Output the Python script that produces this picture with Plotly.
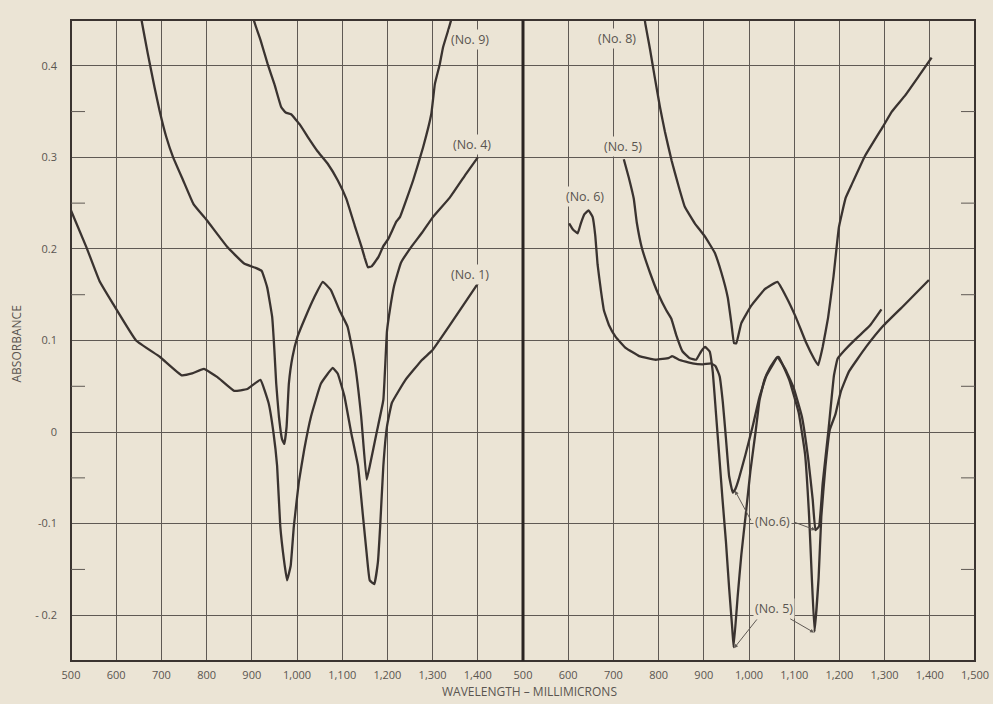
import plotly.graph_objects as go

# ---------------- data ----------------
# Left panel (wavelength in millimicrons, absorbance)
no1_x = [500, 534, 563, 593, 644, 697, 745, 768, 794, 824, 861, 890, 919, 937, 948, 956, 963, 971, 978,
         986, 993, 1004, 1016, 1031, 1053, 1079, 1090, 1105, 1120, 1135, 1146, 1154, 1161, 1171, 1179,
         1184, 1191, 1199, 1210, 1240, 1277, 1299, 1337, 1400]
no1_y = [0.242, 0.202, 0.165, 0.140, 0.100, 0.082, 0.062, 0.064, 0.069, 0.060, 0.045, 0.047, 0.057, 0.032,
         -0.001, -0.037, -0.103, -0.139, -0.162, -0.146, -0.103, -0.055, -0.019, 0.017, 0.053, 0.070, 0.064,
         0.039, -0.001, -0.037, -0.092, -0.132, -0.162, -0.166, -0.142, -0.103, -0.037, 0.006, 0.032, 0.057,
         0.079, 0.089, 0.116, 0.162]

no4_x = [650, 656, 670, 685, 696, 711, 726, 748, 771, 801, 846, 883, 910, 922, 934, 945, 950, 954, 960,
         967, 972, 977, 982, 990, 1001, 1019, 1038, 1057, 1075, 1094, 1112, 1128, 1142, 1154, 1161, 1176,
         1191, 1199, 1206, 1215, 1230, 1254, 1277, 1301, 1338, 1374, 1400]
no4_y = [0.47, 0.45, 0.413, 0.376, 0.351, 0.322, 0.300, 0.275, 0.249, 0.231, 0.202, 0.184, 0.179, 0.176,
         0.158, 0.126, 0.089, 0.053, 0.017, -0.008, -0.013, 0.006, 0.053, 0.082, 0.104, 0.126, 0.147, 0.164,
         0.155, 0.133, 0.115, 0.075, 0.017, -0.052, -0.037, -0.001, 0.035, 0.110, 0.135, 0.160, 0.185,
         0.203, 0.218, 0.235, 0.256, 0.282, 0.300]

no9_x = [898, 905, 920, 935, 950, 965, 975, 987, 1006, 1027, 1045, 1068, 1090, 1109, 1128, 1143, 1150,
         1157, 1165, 1180, 1191, 1202, 1220, 1228, 1257, 1279, 1297, 1305, 1316, 1323, 1334, 1341, 1346]
no9_y = [0.47, 0.449, 0.427, 0.402, 0.380, 0.355, 0.349, 0.347, 0.336, 0.320, 0.307, 0.293, 0.275, 0.255,
         0.225, 0.202, 0.190, 0.180, 0.181, 0.191, 0.203, 0.211, 0.230, 0.235, 0.275, 0.311, 0.347, 0.380,
         0.402, 0.420, 0.438, 0.450, 0.47]

# Right panel
no8_x = [765, 770, 781, 792, 803, 814, 829, 844, 858, 880, 902, 924, 939, 953, 961, 967, 972, 983, 1005,
         1035, 1063, 1083, 1104, 1126, 1144, 1153, 1163, 1175, 1187, 1199, 1214, 1226, 1256, 1298, 1316,
         1346, 1376, 1404]
no8_y = [0.47, 0.448, 0.418, 0.386, 0.355, 0.328, 0.296, 0.269, 0.246, 0.228, 0.214, 0.196, 0.174, 0.147,
         0.119, 0.097, 0.097, 0.119, 0.138, 0.156, 0.164, 0.147, 0.125, 0.098, 0.080, 0.073, 0.093, 0.125,
         0.170, 0.224, 0.256, 0.269, 0.301, 0.335, 0.350, 0.368, 0.389, 0.409]

no5_x = [723, 734, 745, 752, 763, 781, 799, 817, 828, 839, 853, 868, 883, 894, 903, 913, 920, 927, 934,
         941, 949, 956, 963, 966, 975, 983, 993, 1003, 1015, 1023, 1034, 1046, 1061, 1066, 1089, 1110,
         1124, 1133, 1139, 1145, 1154, 1160, 1169, 1179, 1191, 1203, 1221, 1259, 1297, 1342, 1398]
no5_y = [0.298, 0.278, 0.255, 0.228, 0.201, 0.174, 0.151, 0.133, 0.124, 0.106, 0.088, 0.081, 0.079, 0.088,
         0.093, 0.088, 0.065, 0.020, -0.025, -0.071, -0.120, -0.170, -0.215, -0.235, -0.179, -0.134, -0.089,
         -0.043, 0.002, 0.034, 0.057, 0.070, 0.081, 0.082, 0.057, 0.021, -0.024, -0.092, -0.159, -0.218,
         -0.159, -0.092, -0.038, 0.003, 0.019, 0.044, 0.066, 0.093, 0.116, 0.138, 0.166]

no6_x = [602, 611, 621, 628, 636, 645, 654, 660, 665, 672, 679, 690, 705, 727, 757, 794, 823, 830, 845,
         875, 898, 916, 926, 935, 942, 949, 956, 964, 970, 977, 992, 1008, 1023, 1038, 1053, 1063, 1081,
         1099, 1117, 1131, 1141, 1147, 1155, 1163, 1176, 1188, 1196, 1211, 1237, 1267, 1293]
no6_y = [0.228, 0.221, 0.217, 0.228, 0.238, 0.242, 0.235, 0.214, 0.183, 0.156, 0.133, 0.117, 0.104, 0.092,
         0.083, 0.079, 0.081, 0.083, 0.079, 0.075, 0.074, 0.075, 0.072, 0.061, 0.033, -0.007, -0.048, -0.066,
         -0.062, -0.052, -0.025, 0.006, 0.038, 0.061, 0.074, 0.082, 0.068, 0.048, 0.017, -0.029, -0.074,
         -0.107, -0.103, -0.056, 0.003, 0.062, 0.080, 0.089, 0.102, 0.116, 0.134]

left_ticks = [500, 600, 700, 800, 900, 1000, 1100, 1200, 1300, 1400]
left_labels = ["500", "600", "700", "800", "900", "1,000", "1,100", "1,200", "1,300", "1,400"]
right_ticks = [500, 600, 700, 800, 900, 1000, 1100, 1200, 1300, 1400, 1500]
right_labels = ["500", "600", "700", "800", "900", "1,000", "1,100", "1,200", "1,300", "1,400", "1,500"]
y_ticks = [-0.2, -0.1, 0, 0.1, 0.2, 0.3, 0.4]
y_labels = ["- 0.2", "-0.1", "0", "0.1", "0.2", "0.3", "0.4"]
minor_y = [-0.15, -0.05, 0.05, 0.15, 0.25, 0.35]

# ---------------- style ----------------
BG = "#ebe4d5"
INK = "#3a3330"
GRID = "#5f5954"
TXT = "#5a5550"
FONT = "Open Sans"

fig = go.Figure()
line = dict(color=INK, width=2.3, shape="spline", smoothing=0.3)

for name, xs, ys in [("No. 1", no1_x, no1_y), ("No. 4", no4_x, no4_y), ("No. 9", no9_x, no9_y)]:
    fig.add_trace(go.Scatter(x=xs, y=ys, mode="lines", name=name, line=line,
                             xaxis="x", yaxis="y"))
for name, xs, ys in [("No. 8", no8_x, no8_y), ("No. 5", no5_x, no5_y), ("No. 6", no6_x, no6_y)]:
    fig.add_trace(go.Scatter(x=xs, y=ys, mode="lines", name=name, line=line,
                             xaxis="x2", yaxis="y"))

axis_common = dict(range=[500, 1500], showgrid=True, gridcolor=GRID, gridwidth=1,
                   zeroline=False, showline=False, ticks="", ticklabelstandoff=6,
                   automargin=False, tickmode="array",
                   tickfont=dict(family=FONT, size=11, color=TXT))

fig.update_layout(
    width=993, height=704,
    margin=dict(l=71, r=18, t=20, b=43, autoexpand=False),
    paper_bgcolor=BG, plot_bgcolor=BG,
    showlegend=False,
    xaxis=dict(domain=[0, 0.5], tickvals=left_ticks, ticktext=left_labels, anchor="y",
               **axis_common),
    xaxis2=dict(domain=[0.5, 1], tickvals=right_ticks, ticktext=right_labels, anchor="y",
                **axis_common),
    yaxis=dict(range=[-0.25, 0.45], tickvals=y_ticks, ticktext=y_labels, showgrid=True,
               gridcolor=GRID, gridwidth=1, zeroline=False, showline=False, ticks="",
               automargin=False, ticklabelstandoff=13,
               tickfont=dict(family=FONT, size=11, color=TXT)),
)

shapes = []
# outer frame
shapes.append(dict(type="rect", xref="paper", yref="paper", x0=0, x1=1, y0=0, y1=1,
                   line=dict(color=INK, width=2), layer="above"))
# bold divider between the two panels
shapes.append(dict(type="line", xref="paper", yref="paper", x0=0.5, x1=0.5, y0=0, y1=1,
                   line=dict(color="#2a2422", width=3), layer="above"))
# short minor ticks on left and right frame
for v in minor_y:
    shapes.append(dict(type="line", xref="paper", yref="y", xsizemode="pixel", xanchor=0,
                       x0=0, x1=14, y0=v, y1=v, line=dict(color=GRID, width=1)))
    shapes.append(dict(type="line", xref="paper", yref="y", xsizemode="pixel", xanchor=1,
                       x0=-14, x1=0, y0=v, y1=v, line=dict(color=GRID, width=1)))
fig.update_layout(shapes=shapes)

lab_font = dict(family=FONT, size=12.5, color=TXT)
annotations = []
for txt, xr, x, y in [("(No. 9)", "x", 1383, 0.429), ("(No. 4)", "x", 1387, 0.314),
                      ("(No. 1)", "x", 1382, 0.172),
                      ("(No. 8)", "x2", 707, 0.430), ("(No. 5)", "x2", 721, 0.312),
                      ("(No. 6)", "x2", 637, 0.257),
                      ("(No.6)", "x2", 1052, -0.098), ("(No. 5)", "x2", 1056, -0.193)]:
    annotations.append(dict(text=txt, x=x, y=y, xref=xr, yref="y", showarrow=False,
                            font=lab_font, bgcolor=BG, borderpad=1))
# pointer lines of the lower labels
for x0, y0, x1, y1 in [(1006, -0.098, 969, -0.064), (1098, -0.098, 1147, -0.107),
                       (1020, -0.203, 967, -0.236), (1088, -0.203, 1144, -0.219)]:
    annotations.append(dict(text="", x=x1, y=y1, ax=x0, ay=y0, xref="x2", yref="y",
                            axref="x2", ayref="y", showarrow=True, arrowhead=2,
                            arrowsize=0.8, arrowwidth=1, arrowcolor=GRID))
annotations.append(dict(text="WAVELENGTH – MILLIMICRONS", xref="paper", yref="paper",
                        x=0.507, y=-0.047, showarrow=False, yanchor="middle",
                        font=dict(family=FONT, size=12, color=TXT)))
annotations.append(dict(text="ABSORBANCE", xref="paper", yref="paper", x=-0.06, y=0.495,
                        textangle=-90, showarrow=False, xanchor="center", yanchor="middle",
                        font=dict(family=FONT, size=12, color=TXT)))
fig.update_layout(annotations=annotations)

# remove the default 8px page margin so the figure fills the window exactly
fig.write_html("out.html", config={"displayModeBar": False},
               post_script="document.body.style.margin='0';document.body.style.overflow='hidden';")
